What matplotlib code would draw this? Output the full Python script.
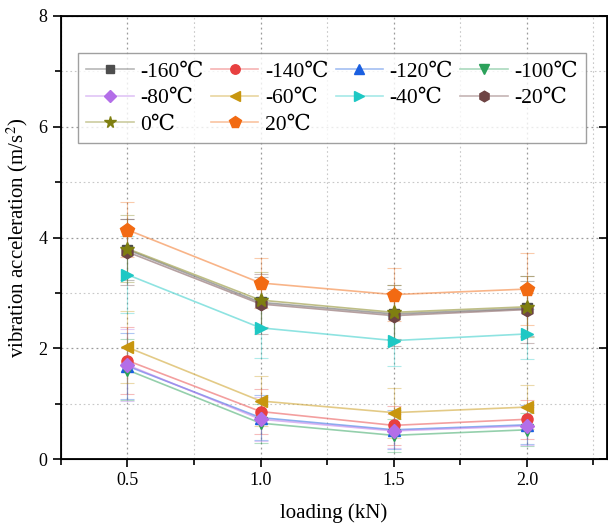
import matplotlib
matplotlib.use("Agg")
import matplotlib.pyplot as plt
from matplotlib.ticker import MultipleLocator
from matplotlib.colors import to_rgba

plt.rcParams['font.family'] = ['Liberation Serif', 'DejaVu Serif']
plt.rcParams['mathtext.fontset'] = 'stix'

loading = [0.5, 1.0, 1.5, 2.0]
labels = ['-160℃', '-140℃', '-120℃', '-100℃', '-80℃',
          '-60℃', '-40℃', '-20℃', '0℃', '20℃']

acc_m160 = [3.78, 2.83, 2.62, 2.72]
acc_m140 = [1.78, 0.86, 0.61, 0.72]
acc_m120 = [1.68, 0.75, 0.53, 0.62]
acc_m100 = [1.61, 0.65, 0.43, 0.53]
acc_m80 = [1.70, 0.72, 0.51, 0.60]
acc_m60 = [2.02, 1.05, 0.84, 0.94]
acc_m40 = [3.33, 2.37, 2.14, 2.26]
acc_m20 = [3.74, 2.80, 2.59, 2.70]
acc_0 = [3.80, 2.87, 2.65, 2.75]
acc_20 = [4.14, 3.18, 2.97, 3.07]

err_m160 = [0.55, 0.45, 0.45, 0.50]
err_m140 = [0.60, 0.40, 0.35, 0.35]
err_m120 = [0.60, 0.40, 0.35, 0.35]
err_m100 = [0.55, 0.35, 0.30, 0.30]
err_m80 = [0.65, 0.40, 0.30, 0.35]
err_m60 = [0.65, 0.45, 0.45, 0.40]
err_m40 = [0.70, 0.55, 0.45, 0.45]
err_m20 = [0.60, 0.55, 0.55, 0.60]
err_0 = [0.60, 0.50, 0.50, 0.55]
err_20 = [0.50, 0.45, 0.48, 0.65]

series = [acc_m160, acc_m140, acc_m120, acc_m100, acc_m80,
          acc_m60, acc_m40, acc_m20, acc_0, acc_20]
errors = [err_m160, err_m140, err_m120, err_m100, err_m80,
          err_m60, err_m40, err_m20, err_0, err_20]

colors = ['#4d4d4d', '#e84040', '#1a5fe0', '#2ba15a', '#b36ee8',
          '#c8960f', '#1ec8c4', '#6e4444', '#7f7f10', '#f26a12']
markers = ['s', 'o', '^', 'v', 'D', '<', '>', 'h', '*', 'p']
msizes = [7, 8, 8, 8, 7, 9, 9, 9, 10, 10]

fig = plt.figure(figsize=(6.08, 5.29), dpi=100)
ax = fig.add_axes([0.100, 0.132, 0.898, 0.838])

handles = []
for y, e, c, m, ms, lab in zip(series, errors, colors, markers, msizes, labels):
    ax.errorbar(loading, y, yerr=e, fmt='none', ecolor=c, alpha=0.35,
                elinewidth=0.8, capsize=5, capthick=0.8, zorder=2)
    ax.plot(loading, y, '-', color=c, alpha=0.5, lw=1.2, zorder=3)
    ax.plot(loading, y, linestyle='none', marker=m, ms=ms, color=c, zorder=4)
    h, = ax.plot([], [], '-', color=to_rgba(c, 0.4), lw=1.2, marker=m,
                 ms=ms * 0.85, mfc=c, mec=c, label=lab)
    handles.append(h)

ax.set_xlim(0.25, 2.3)
ax.set_ylim(0, 8)
ax.xaxis.set_major_locator(MultipleLocator(0.5))
ax.xaxis.set_minor_locator(MultipleLocator(0.25))
ax.yaxis.set_major_locator(MultipleLocator(2))
ax.yaxis.set_minor_locator(MultipleLocator(1))
ax.set_xticks([0.5, 1.0, 1.5, 2.0])
ax.set_xticklabels(['0.5', '1.0', '1.5', '2.0'])

ax.grid(True, which='major', linestyle=(0, (1.5, 2.5)), color='#9a9a9a', lw=0.9)
ax.grid(True, which='minor', linestyle=(0, (1.5, 2.5)), color='#c8c8c8', lw=0.8)
ax.set_axisbelow(True)

ax.tick_params(which='both', direction='out', labelsize=13, width=1.2,
               right=False, top=False)
ax.tick_params(which='major', length=6)
ax.tick_params(which='minor', length=4)
for s in ax.spines.values():
    s.set_linewidth(1.3)

# right-hand ticks point inward
axr = ax.twinx()
axr.set_ylim(0, 8)
axr.yaxis.set_major_locator(MultipleLocator(2))
axr.yaxis.set_minor_locator(MultipleLocator(1))
axr.tick_params(which='both', direction='in', labelright=False, width=1.2)
axr.tick_params(which='major', length=6)
axr.tick_params(which='minor', length=0)

ax.set_xlabel('loading (kN)', fontsize=15, labelpad=10)
ax.set_ylabel('vibration acceleration (m/s$^2$)', fontsize=15, labelpad=6)

# row-wise legend order for 4 columns
order = [0, 4, 8, 1, 5, 9, 2, 6, 3, 7]
leg = ax.legend([handles[i] for i in order], [labels[i] for i in order],
                ncol=4, loc='upper left', bbox_to_anchor=(0.031, 0.916),
                fontsize=15.5, frameon=True, fancybox=False, edgecolor='#888888',
                handlelength=2.2, handletextpad=0.3, columnspacing=0.35,
                labelspacing=0.3, borderpad=0.4, borderaxespad=0)
leg.get_frame().set_linewidth(1.0)
leg.set_zorder(10)

fig.savefig('out.png', dpi=100)
